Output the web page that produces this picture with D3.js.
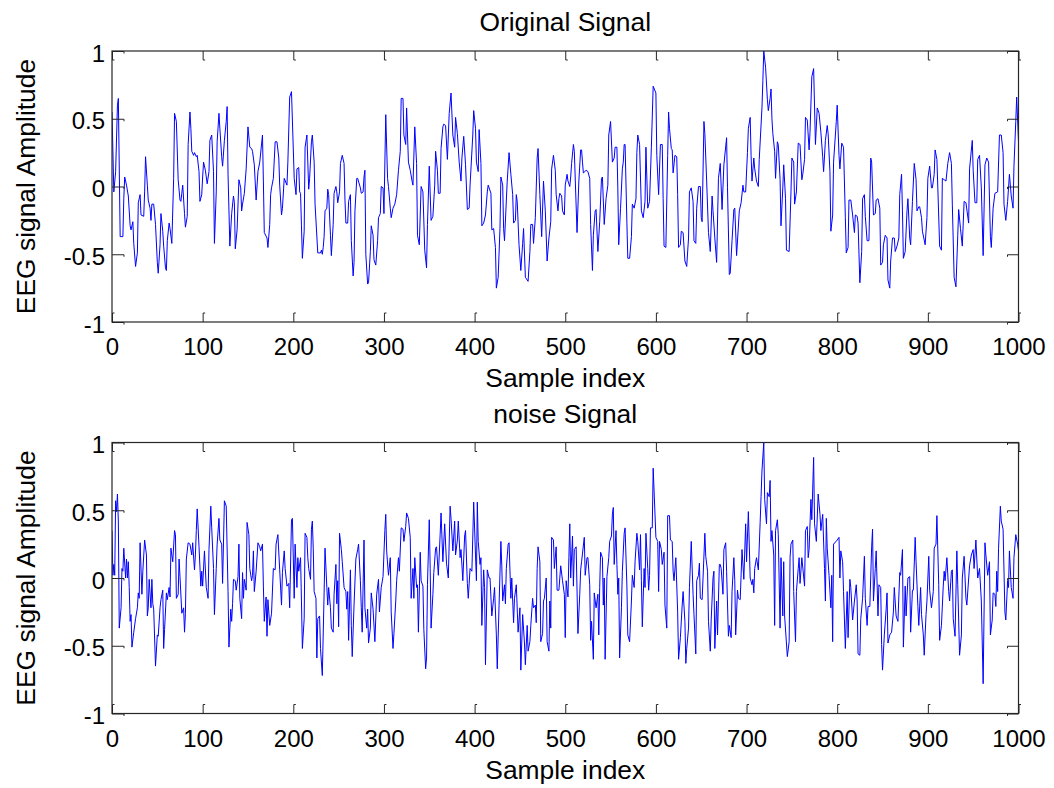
<!DOCTYPE html>
<html>
<head>
<meta charset="utf-8">
<script src="https://cdn.jsdelivr.net/npm/d3@7"></script>
<style>
  body { margin: 0; background: #fff; }
  svg text { font-family: "Liberation Sans", Arial, sans-serif; fill: #000; }
</style>
</head>
<body>
<script>
const w = 1054;
const h = 788;

const xTicks = [0, 100, 200, 300, 400, 500, 600, 700, 800, 900, 1000];
const yTicks = [-1, -0.5, 0, 0.5, 1];

// [sample index, amplitude]
const originalSignal = [
  [0,0.55],[2,-0.04],[4,0.11],[6,0.60],[7,0.65],[9,-0.37],[12,-0.37],[13,-0.09],[14,0.07],[16,0.01],[18,-0.07],[20,-0.29],[21,-0.32],[23,-0.26],[24,-0.42],[26,-0.59],[28,-0.49],[29,-0.12],[31,-0.06],[32,-0.21],[35,-0.22],[36,-0.04],[37,0.22],[39,0.01],[40,-0.10],[42,-0.16],[43,-0.25],[44,-0.13],[46,-0.13],[48,-0.28],[50,-0.56],[51,-0.64],[53,-0.43],[54,-0.20],[56,-0.33],[57,-0.44],[59,-0.60],[60,-0.62],[61,-0.40],[63,-0.27],[64,-0.31],[66,-0.42],[68,0.06],[69,0.54],[71,0.48],[73,0.05],[75,-0.10],[76,-0.11],[77,-0.05],[78,0.01],[80,-0.20],[81,-0.30],[83,-0.22],[84,0.31],[86,0.55],[87,0.43],[88,0.26],[90,0.23],[91,0.25],[93,0.22],[94,0.23],[96,0.11],[97,-0.11],[99,-0.06],
  [100,0.07],[101,0.18],[103,0.12],[105,0.02],[107,0.11],[108,0.34],[110,0.38],[112,0.11],[113,-0.42],[115,-0.04],[116,0.33],[118,0.54],[119,0.43],[121,0.22],[122,0.15],[124,0.34],[126,0.48],[127,0.59],[128,0.09],[130,-0.44],[132,-0.20],[134,-0.07],[135,-0.12],[136,-0.46],[138,-0.32],[140,0.05],[142,-0.01],[143,-0.18],[144,-0.13],[146,-0.05],[148,0.13],[150,0.44],[152,0.29],[154,0.28],[155,0.26],[157,0.16],[159,-0.10],[161,0.11],[163,0.18],[166,0.38],[167,0.04],[168,-0.34],[171,-0.38],[172,-0.45],[174,-0.28],[175,-0.06],[176,-0.01],[178,0.06],[180,0.33],[182,0.33],[184,0.21],[185,0.01],[187,-0.21],[188,-0.16],[190,0.06],[193,0.01],[194,0.18],[196,0.66],[198,0.70],
  [201,0.06],[203,-0.06],[204,0.13],[206,0.14],[207,-0.04],[208,-0.05],[209,-0.29],[210,-0.53],[212,-0.33],[213,0.29],[215,0.38],[217,-0.02],[218,0.06],[220,0.33],[221,0.38],[223,0.18],[224,-0.13],[227,-0.49],[230,-0.49],[231,-0.47],[232,-0.50],[233,-0.45],[234,-0.37],[235,-0.18],[237,-0.16],[238,-0.02],[239,-0.06],[241,-0.36],[242,-0.51],[244,-0.28],[245,-0.05],[247,0.00],[248,-0.04],[249,-0.12],[251,-0.04],[252,0.17],[254,0.23],[256,0.17],[257,-0.10],[258,-0.27],[260,-0.27],[261,-0.11],[263,-0.06],[264,-0.40],[266,-0.66],[267,-0.56],[268,-0.18],[270,0.06],[271,0.06],[274,-0.01],[275,-0.05],[277,-0.04],[278,0.07],[279,0.12],[280,-0.50],[282,-0.72],[283,-0.71],[285,-0.48],[286,-0.29],[288,-0.36],[289,-0.54],[291,-0.58],[293,-0.40],[294,-0.23],[296,-0.20],[297,0.00],[299,-0.01],
  [300,-0.20],[302,0.53],[304,0.06],[305,0.00],[307,-0.16],[308,-0.23],[310,-0.16],[312,-0.13],[314,-0.06],[316,0.12],[318,0.26],[319,0.65],[321,0.65],[322,0.38],[324,0.31],[325,0.58],[327,0.18],[329,0.12],[331,0.04],[332,0.01],[334,0.44],[336,0.17],[337,-0.36],[339,-0.43],[341,0.00],[343,-0.04],[345,-0.47],[347,-0.60],[348,-0.28],[350,0.15],[352,-0.25],[354,-0.22],[356,0.01],[357,0.26],[359,0.12],[360,-0.05],[362,-0.05],[363,0.28],[365,0.44],[366,0.46],[368,0.45],[370,0.20],[372,0.54],[374,0.69],[376,0.38],[378,0.29],[379,0.51],[381,0.39],[383,0.18],[385,0.04],[386,0.21],[388,0.37],[390,0.16],[392,-0.17],[394,-0.16],[395,0.01],[398,0.38],
  [399,0.56],[401,0.43],[402,0.18],[404,0.11],[405,0.42],[407,0.17],[408,-0.29],[410,-0.27],[412,-0.21],[414,-0.04],[415,0.01],[418,-0.05],[419,-0.32],[421,-0.31],[423,-0.45],[424,-0.75],[426,-0.67],[428,-0.31],[429,0.07],[431,0.01],[432,-0.31],[433,-0.40],[436,0.04],[438,0.25],[440,0.09],[442,-0.06],[443,-0.27],[445,-0.25],[446,-0.06],[447,-0.11],[449,-0.43],[451,-0.62],[453,-0.42],[454,-0.31],[456,-0.67],[459,-0.70],[461,-0.48],[462,-0.28],[464,-0.28],[465,-0.42],[467,-0.23],[469,0.21],[470,0.28],[472,-0.06],[474,-0.37],[476,0.04],[478,-0.18],[480,-0.55],[482,-0.38],[484,-0.26],[485,0.13],[487,0.23],[489,0.12],[490,-0.06],[492,-0.18],[493,-0.09],[494,-0.05],[496,-0.07],[497,-0.18],[499,-0.21],
  [500,0.01],[502,0.09],[503,0.04],[505,0.00],[506,0.07],[507,0.17],[509,0.31],[510,0.26],[513,-0.34],[515,0.04],[517,0.27],[518,0.27],[519,0.18],[520,0.10],[523,0.12],[525,0.11],[527,0.06],[528,-0.28],[530,-0.62],[531,-0.36],[533,-0.18],[534,-0.17],[536,-0.48],[538,-0.26],[540,0.06],[541,0.07],[543,-0.28],[545,-0.09],[547,0.01],[548,0.38],[550,0.48],[552,0.18],[554,0.21],[555,0.29],[557,0.29],[558,-0.01],[559,-0.43],[561,-0.16],[563,0.13],[564,0.18],[565,0.31],[566,0.31],[568,-0.27],[569,-0.53],[571,-0.53],[573,-0.37],[574,-0.13],[576,-0.16],[578,-0.09],[579,0.25],[580,0.38],[582,0.31],[584,-0.18],[586,-0.23],[588,-0.11],[589,0.29],[591,-0.16],[593,-0.11],[595,0.29],[597,0.74],
  [600,0.69],[601,0.23],[603,-0.06],[605,0.31],[607,0.31],[608,-0.09],[609,-0.44],[611,-0.45],[613,0.23],[614,0.55],[615,0.43],[617,0.28],[618,0.27],[619,0.10],[621,0.23],[623,0.22],[624,-0.06],[625,-0.45],[627,-0.43],[628,-0.33],[630,-0.34],[632,-0.55],[634,-0.59],[636,-0.38],[637,-0.04],[639,-0.01],[641,-0.11],[642,-0.40],[644,-0.42],[645,-0.16],[647,0.00],[649,0.00],[650,-0.23],[651,-0.26],[653,0.48],[654,0.39],[656,0.04],[658,-0.34],[660,-0.48],[662,-0.07],[663,-0.18],[665,-0.38],[667,-0.56],[669,0.06],[671,0.17],[673,-0.17],[675,0.16],[678,0.36],[679,-0.01],[681,-0.65],[682,-0.64],[684,-0.40],[686,-0.17],[687,-0.16],[689,-0.51],[692,-0.18],[694,-0.12],[696,0.01],[697,-0.04],[699,-0.04],
  [701,0.25],[702,0.43],[704,0.51],[705,0.23],[706,0.04],[708,0.21],[709,0.13],[711,0.04],[713,0.00],[714,0.20],[717,0.58],[718,0.78],[719,1.00],[721,0.88],[723,0.64],[724,0.56],[726,0.65],[727,0.72],[728,0.50],[729,0.39],[731,0.26],[732,0.06],[734,0.33],[735,0.31],[737,0.05],[738,-0.29],[740,-0.01],[741,0.16],[743,-0.09],[744,-0.47],[747,-0.48],[749,-0.04],[750,0.21],[752,0.18],[753,-0.13],[755,-0.04],[757,0.32],[759,0.31],[761,0.05],[762,0.09],[764,0.20],[765,0.51],[767,0.49],[769,0.27],[770,0.40],[772,0.81],[774,0.87],[776,0.31],[778,0.58],[780,0.54],[782,0.40],[784,0.22],[785,0.11],[787,0.34],[789,0.45],[790,0.39],[792,0.11],[793,-0.33],[795,-0.21],[796,0.18],
  [799,0.48],[800,0.60],[802,0.23],[803,0.13],[805,0.32],[807,0.29],[809,-0.23],[810,-0.49],[812,-0.45],[813,-0.10],[815,-0.10],[817,-0.21],[819,-0.34],[820,-0.21],[822,-0.22],[823,-0.27],[825,-0.71],[827,-0.48],[828,-0.09],[830,-0.06],[831,-0.22],[833,-0.40],[835,-0.40],[837,0.21],[838,0.18],[840,-0.21],[842,-0.20],[843,-0.10],[845,-0.09],[847,-0.16],[848,-0.58],[850,-0.56],[851,-0.43],[853,-0.36],[855,-0.38],[856,-0.69],[858,-0.75],[859,-0.55],[861,-0.38],[863,-0.38],[864,-0.48],[866,-0.44],[868,-0.38],[869,-0.06],[871,0.09],[872,-0.18],[873,-0.53],[875,-0.48],[877,-0.18],[878,-0.09],[880,-0.38],[881,-0.43],[883,-0.11],[885,0.17],[887,0.05],[888,-0.18],[890,-0.15],[891,-0.15],[893,-0.23],[894,-0.33],[897,-0.43],[899,-0.23],
  [900,0.06],[902,0.15],[904,-0.01],[905,-0.01],[907,0.09],[908,0.27],[910,0.20],[911,-0.01],[913,-0.44],[915,-0.47],[916,0.06],[918,0.05],[920,0.04],[922,0.17],[924,0.25],[926,0.17],[927,-0.13],[929,-0.67],[931,-0.74],[933,-0.36],[934,-0.17],[936,-0.31],[938,-0.44],[940,-0.11],[942,-0.12],[945,-0.27],[946,0.13],[949,0.34],[950,0.12],[952,-0.12],[954,-0.12],[955,0.20],[957,0.23],[959,-0.01],[961,-0.51],[963,0.16],[965,0.21],[967,0.18],[969,-0.37],[970,-0.45],[972,-0.16],[974,-0.05],[977,-0.04],[979,0.38],[981,0.38],[983,0.25],[984,-0.13],[986,-0.25],[988,-0.11],[990,0.09],[992,-0.07],[994,-0.16],[995,0.15],[997,0.48],[998,0.66],[1000,0.33]
];

const noiseSignal = [
  [0,0.35],[1,0.02],[2,0.10],[3,0.02],[4,0.57],[5,0.49],[6,0.62],[7,0.42],[8,-0.37],[10,-0.22],[11,0.07],[12,0.05],[13,0.22],[15,0.00],[16,0.14],[17,0.00],[18,0.12],[19,-0.07],[20,-0.32],[21,-0.27],[22,-0.51],[24,-0.40],[26,-0.30],[28,-0.22],[29,-0.11],[30,-0.15],[31,0.26],[33,-0.12],[34,0.05],[36,0.28],[38,0.17],[39,-0.28],[40,-0.22],[41,-0.01],[43,-0.22],[44,-0.01],[45,-0.19],[46,-0.23],[48,-0.65],[50,-0.42],[51,-0.43],[53,-0.22],[54,-0.16],[56,-0.09],[57,-0.52],[58,-0.38],[60,-0.11],[61,-0.16],[63,-0.07],[64,-0.14],[65,0.22],[67,0.12],[69,0.35],[70,0.32],[71,-0.15],[73,-0.12],[74,0.14],[75,0.01],[77,-0.26],[79,-0.22],[80,-0.40],[81,-0.26],[82,0.14],[84,0.26],[86,0.25],[88,0.17],[89,0.26],[91,0.06],[92,0.17],[93,0.35],[94,0.51],[96,0.23],[98,-0.06],[99,0.05],
  [100,-0.06],[102,0.20],[104,-0.07],[106,-0.15],[107,0.21],[109,0.53],[110,0.37],[112,0.07],[113,-0.27],[115,0.07],[116,0.25],[118,0.44],[119,0.28],[121,0.25],[122,-0.04],[124,0.57],[126,0.53],[128,-0.10],[129,-0.51],[131,-0.23],[132,-0.32],[133,-0.19],[134,-0.01],[136,-0.02],[137,-0.09],[139,0.01],[140,0.25],[141,-0.15],[143,-0.30],[144,0.04],[145,-0.15],[146,-0.01],[148,-0.09],[149,0.41],[151,0.32],[152,0.07],[154,-0.02],[155,0.02],[156,0.20],[157,-0.10],[159,0.05],[161,0.26],[163,0.23],[164,0.20],[166,0.25],[167,-0.06],[168,-0.32],[170,-0.14],[171,-0.43],[172,-0.16],[174,-0.35],[176,-0.26],[178,0.07],[180,0.06],[181,0.25],[183,0.32],[185,0.06],[187,-0.20],[188,0.04],[190,0.20],[191,0.07],[193,-0.06],[195,-0.04],[196,-0.22],[198,0.43],[199,0.44],
  [201,-0.15],[202,0.25],[204,-0.07],[205,0.15],[206,0.05],[208,0.15],[209,-0.17],[210,-0.52],[212,-0.30],[213,0.33],[215,0.30],[216,0.15],[217,0.07],[219,-0.01],[220,0.36],[221,0.42],[222,0.22],[223,-0.10],[225,-0.15],[226,-0.59],[227,-0.30],[229,-0.28],[230,-0.52],[232,-0.72],[234,-0.11],[235,0.22],[237,-0.07],[238,-0.20],[239,-0.07],[241,-0.22],[242,-0.37],[244,-0.40],[245,-0.12],[247,0.10],[248,-0.19],[249,-0.02],[250,-0.36],[251,0.33],[253,0.21],[254,0.12],[256,-0.07],[258,-0.10],[259,-0.23],[260,-0.10],[261,-0.46],[263,0.06],[264,-0.35],[265,-0.58],[267,-0.20],[269,0.14],[271,0.21],[272,0.25],[274,-0.02],[275,-0.22],[276,-0.40],[278,0.28],[279,-0.22],[281,-0.37],[282,-0.23],[283,-0.48],[285,-0.37],[286,-0.11],[288,-0.23],[290,-0.47],[292,-0.12],[294,-0.01],[295,-0.25],[297,-0.07],[299,0.01],
  [301,0.35],[302,0.47],[303,0.20],[305,0.02],[307,0.15],[308,-0.25],[310,-0.52],[311,-0.41],[313,-0.17],[314,-0.02],[316,0.15],[317,0.05],[319,0.37],[321,0.36],[322,0.27],[324,0.38],[325,0.48],[327,0.44],[329,0.30],[330,-0.15],[332,0.07],[333,-0.15],[334,0.15],[336,-0.07],[337,-0.05],[338,-0.40],[340,0.19],[341,-0.02],[343,-0.06],[344,-0.38],[346,-0.67],[347,-0.59],[348,-0.05],[350,0.43],[351,0.07],[352,-0.37],[354,-0.12],[355,0.04],[357,0.22],[358,0.23],[360,0.02],[362,0.32],[363,0.48],[365,0.12],[367,0.40],[369,0.11],[371,0.00],[373,0.53],[374,0.44],[376,0.20],[378,0.42],[379,0.17],[381,0.28],[382,0.42],[384,0.15],[385,0.21],[387,-0.02],[389,0.31],[390,0.35],[392,-0.04],[393,-0.15],[395,0.07],[397,0.05],
  [399,0.56],[401,0.17],[402,-0.02],[403,0.56],[404,0.27],[406,0.10],[407,0.15],[408,-0.35],[410,0.06],[411,-0.07],[412,-0.64],[414,0.06],[416,0.00],[417,0.00],[419,-0.28],[421,-0.15],[422,-0.07],[424,-0.42],[425,-0.67],[427,-0.20],[429,0.27],[430,0.09],[431,-0.17],[433,-0.05],[434,-0.19],[435,0.07],[437,0.25],[438,0.26],[440,-0.15],[441,0.00],[443,-0.33],[444,-0.15],[446,-0.05],[448,-0.40],[450,-0.22],[451,-0.68],[453,-0.27],[455,-0.48],[456,-0.64],[458,-0.35],[459,-0.54],[461,-0.47],[462,-0.35],[464,-0.15],[465,-0.22],[467,-0.20],[468,-0.33],[469,0.07],[470,0.23],[472,0.12],[473,-0.47],[475,-0.41],[476,-0.17],[477,-0.15],[479,0.00],[480,-0.47],[482,-0.54],[483,-0.17],[484,-0.37],[485,0.30],[487,0.28],[488,0.07],[490,0.23],[491,-0.09],[493,-0.09],[495,0.09],[497,-0.02],[499,-0.12],
  [500,-0.44],[501,-0.02],[503,-0.14],[504,0.15],[505,0.40],[506,0.00],[508,0.31],[509,-0.06],[510,0.21],[512,0.23],[514,-0.41],[516,-0.12],[517,0.06],[518,0.12],[521,0.30],[522,0.02],[524,0.15],[525,0.15],[527,-0.05],[528,-0.46],[529,-0.32],[531,-0.60],[532,-0.11],[534,-0.22],[536,-0.12],[537,-0.42],[538,-0.07],[539,0.19],[541,0.15],[542,-0.20],[543,0.00],[544,-0.60],[546,0.01],[548,0.15],[549,0.27],[551,0.31],[552,0.47],[553,0.52],[554,0.10],[556,0.35],[557,0.10],[558,-0.12],[559,0.00],[560,-0.59],[562,-0.22],[563,0.05],[565,0.33],[566,0.37],[568,-0.06],[569,-0.42],[571,-0.47],[573,-0.17],[574,0.02],[576,-0.07],[577,0.12],[579,0.33],[580,0.27],[582,0.06],[583,0.32],[584,-0.02],[585,-0.36],[587,0.07],[588,-0.07],[589,0.33],[591,0.07],[592,-0.09],[593,0.02],[594,0.37],[596,0.37],[597,0.81],
  [600,0.30],[602,0.27],[603,-0.10],[604,0.27],[606,0.21],[607,0.10],[609,0.19],[610,-0.20],[612,-0.37],[613,0.46],[615,0.46],[616,0.28],[618,0.27],[619,0.05],[620,-0.02],[622,0.15],[624,-0.25],[625,-0.60],[627,-0.44],[629,-0.20],[630,-0.10],[632,-0.32],[633,-0.63],[634,-0.52],[636,-0.37],[637,-0.07],[639,0.27],[641,-0.12],[642,-0.27],[644,-0.56],[645,-0.02],[647,0.02],[648,0.11],[649,-0.15],[651,-0.16],[652,0.00],[654,0.33],[655,0.16],[657,0.05],[658,-0.32],[660,-0.54],[661,-0.31],[663,0.00],[664,0.05],[665,-0.52],[667,-0.17],[668,-0.42],[670,0.10],[671,0.10],[672,0.07],[674,-0.12],[675,0.21],[677,0.26],[678,0.05],[680,-0.43],[681,-0.35],[683,-0.44],[684,-0.10],[686,0.15],[687,-0.02],[688,-0.42],[690,-0.09],[691,-0.15],[693,-0.16],[695,0.21],[697,-0.01],[699,0.40],
  [700,0.12],[702,0.49],[704,0.00],[706,-0.05],[707,-0.01],[708,-0.11],[709,0.07],[711,0.15],[713,0.06],[715,0.41],[716,0.60],[717,0.79],[719,1.00],[720,0.58],[722,0.40],[723,0.63],[725,0.60],[726,0.72],[727,0.27],[728,0.35],[730,0.17],[731,-0.35],[732,0.35],[734,0.43],[735,0.32],[737,-0.37],[738,0.15],[740,-0.28],[741,0.12],[742,-0.28],[745,-0.58],[747,-0.47],[748,0.15],[749,0.25],[751,0.28],[752,-0.10],[754,-0.47],[755,-0.10],[757,0.07],[758,0.15],[759,-0.04],[761,0.15],[764,-0.06],[765,0.35],[767,0.38],[768,0.15],[769,0.21],[771,0.58],[772,0.43],[774,0.89],[775,0.40],[777,0.27],[779,0.62],[781,0.47],[782,0.35],[784,0.47],[786,0.07],[787,-0.17],[788,0.44],[789,0.22],[791,0.02],[793,-0.22],[794,0.02],[795,-0.47],[796,0.25],
  [800,0.28],[802,0.30],[803,0.00],[804,0.20],[806,0.12],[807,-0.10],[809,-0.52],[811,-0.10],[812,-0.44],[814,-0.01],[815,-0.07],[817,-0.31],[819,-0.17],[821,-0.05],[822,-0.17],[823,-0.56],[825,-0.57],[826,-0.30],[828,-0.15],[830,0.16],[831,-0.15],[833,-0.35],[834,-0.21],[836,-0.21],[838,0.23],[839,0.36],[840,-0.17],[842,0.07],[843,0.20],[845,-0.28],[846,-0.05],[848,-0.07],[849,-0.49],[850,-0.68],[852,-0.42],[854,-0.23],[855,-0.11],[856,-0.48],[858,-0.42],[860,-0.40],[862,-0.25],[863,-0.07],[865,-0.28],[867,-0.32],[869,0.04],[870,0.02],[872,0.21],[873,-0.51],[875,-0.06],[876,-0.28],[878,0.00],[880,0.01],[881,-0.40],[883,-0.09],[884,-0.09],[886,0.30],[887,0.12],[889,-0.21],[890,-0.35],[892,-0.07],[893,-0.27],[895,-0.42],[896,-0.57],[898,-0.27],[899,-0.17],
  [901,0.16],[902,-0.09],[904,-0.22],[906,-0.10],[907,0.22],[909,0.25],[910,0.46],[912,-0.05],[913,-0.46],[915,-0.35],[917,-0.06],[918,0.05],[919,-0.02],[921,0.15],[923,-0.10],[924,-0.17],[926,0.05],[927,0.06],[928,-0.30],[930,-0.43],[932,0.20],[933,-0.05],[935,-0.57],[937,-0.42],[938,0.00],[940,0.16],[942,-0.15],[943,-0.20],[946,0.09],[948,0.17],[950,0.21],[951,0.07],[953,0.28],[955,0.00],[957,0.07],[959,-0.17],[961,-0.78],[963,0.26],[964,0.17],[966,0.02],[968,0.12],[969,-0.42],[971,-0.31],[972,-0.11],[974,-0.12],[975,-0.21],[976,0.05],[977,-0.10],[978,0.22],[980,0.53],[981,0.42],[983,0.36],[985,-0.25],[986,-0.31],[988,-0.02],[989,-0.07],[990,0.20],[992,-0.07],[994,-0.15],[995,0.15],[997,0.32],[999,0.25],[1000,0.20]
];

const panels = [
  { title: "Original Signal", data: originalSignal, top: 51, bottom: 322 },
  { title: "noise Signal", data: noiseSignal, top: 442.5, bottom: 713.5 }
];

const axisColor = "#262626";
const tickFont = 24;
const labelFont = 26.4;

const svg = d3.select("body")
  .append("svg")
  .attr("width", w)
  .attr("height", h);

svg.append("rect").attr("width", w).attr("height", h).attr("fill", "#fff");

const x = d3.scaleLinear().domain([0, 1000]).range([112, 1018.5]);

function styleAxis(sel) {
  sel.attr("font-size", tickFont)
    .attr("font-family", "'Liberation Sans', Arial, sans-serif")
    .style("color", axisColor);
  sel.select(".domain").remove();
}

panels.forEach((p, i) => {
  const y = d3.scaleLinear().domain([-1, 1]).range([p.bottom, p.top]);
  const g = svg.append("g");
  const midY = (p.top + p.bottom) / 2;

  g.append("clipPath")
    .attr("id", "clip" + i)
    .append("rect")
    .attr("x", x(0))
    .attr("y", p.top - 1)
    .attr("width", x(1000) - x(0))
    .attr("height", p.bottom - p.top + 2);

  // the signal
  g.append("path")
    .datum(p.data)
    .attr("clip-path", "url(#clip" + i + ")")
    .attr("fill", "none")
    .attr("stroke", "#0000ff")
    .attr("stroke-width", 1)
    .attr("stroke-linejoin", "miter")
    .attr("d", d3.line().x(d => x(d[0])).y(d => y(d[1])));

  // bottom axis with labels
  const bottomAxis = g.append("g")
    .attr("transform", "translate(0," + p.bottom + ")")
    .call(d3.axisBottom(x).tickValues(xTicks).tickSizeInner(-9).tickSizeOuter(0)
      .tickPadding(16).tickFormat(d3.format("d")))
    .call(styleAxis);
  bottomAxis.selectAll(".tick").append("line")
    .attr("x1", 0).attr("x2", 2).attr("y1", -9).attr("y2", -9)
    .attr("stroke", "currentColor");

  // top axis, ticks only
  const topAxis = g.append("g")
    .attr("transform", "translate(0," + p.top + ")")
    .call(d3.axisTop(x).tickValues(xTicks).tickSizeInner(-9).tickSizeOuter(0).tickFormat(""))
    .call(styleAxis);
  topAxis.selectAll(".tick").append("line")
    .attr("x1", 0).attr("x2", 2).attr("y1", 9).attr("y2", 9)
    .attr("stroke", "currentColor");

  // left axis with labels
  const leftAxis = g.append("g")
    .attr("transform", "translate(" + x(0) + ",0)")
    .call(d3.axisLeft(y).tickValues(yTicks).tickSizeInner(-12).tickSizeOuter(0)
      .tickPadding(7).tickFormat(d => String(d)))
    .call(styleAxis);
  leftAxis.selectAll(".tick text").attr("dy", "0.42em");
  leftAxis.selectAll(".tick").append("line")
    .attr("x1", 12).attr("x2", 12).attr("y1", 0).attr("y2", 2)
    .attr("stroke", "currentColor");

  // right axis, ticks only
  const rightAxis = g.append("g")
    .attr("transform", "translate(" + x(1000) + ",0)")
    .call(d3.axisRight(y).tickValues(yTicks).tickSizeInner(-11).tickSizeOuter(0).tickFormat(""))
    .call(styleAxis);
  rightAxis.selectAll(".tick").append("line")
    .attr("x1", -11).attr("x2", -11).attr("y1", 0).attr("y2", 2)
    .attr("stroke", "currentColor");

  // box
  g.append("rect")
    .attr("x", x(0))
    .attr("y", p.top)
    .attr("width", x(1000) - x(0))
    .attr("height", p.bottom - p.top)
    .attr("fill", "none")
    .attr("stroke", axisColor)
    .attr("stroke-width", 1.2);

  g.append("text")
    .attr("x", (x(0) + x(1000)) / 2)
    .attr("y", p.top - 20)
    .attr("text-anchor", "middle")
    .attr("font-size", labelFont)
    .text(p.title);

  g.append("text")
    .attr("x", (x(0) + x(1000)) / 2)
    .attr("y", p.bottom + 65)
    .attr("text-anchor", "middle")
    .attr("font-size", labelFont)
    .text("Sample index");

  g.append("text")
    .attr("transform", "translate(35," + midY + ") rotate(-90)")
    .attr("text-anchor", "middle")
    .attr("font-size", labelFont)
    .text("EEG signal Amplitude");
});
</script>
</body>
</html>
